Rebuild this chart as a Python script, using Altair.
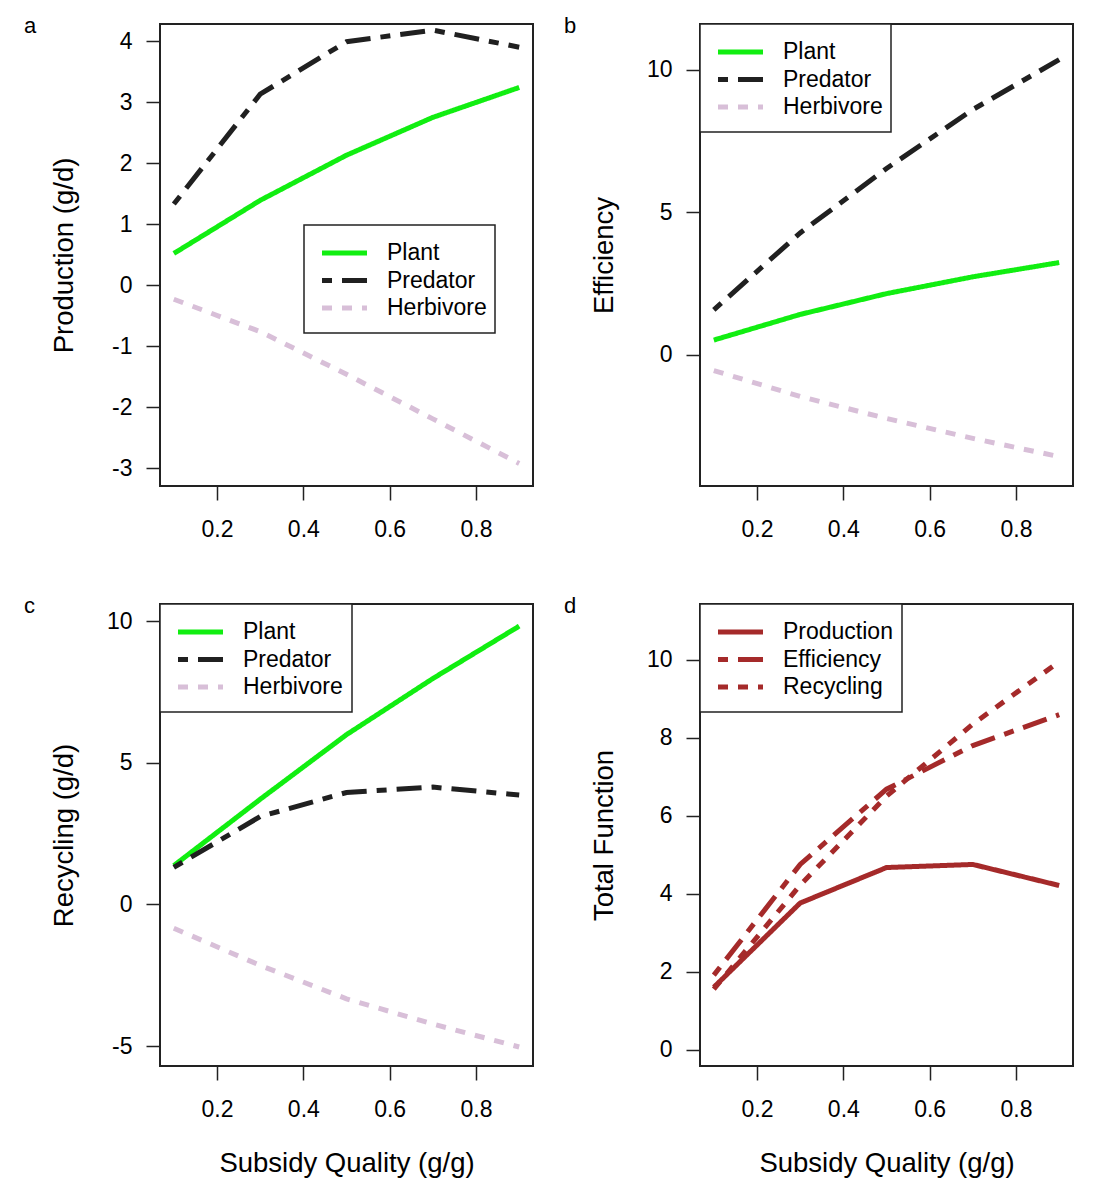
import altair as alt
import pandas as pd

FONT = "Liberation Sans"

# Subsidy quality levels (g/g) along the x axis
quality = [0.1, 0.3, 0.5, 0.7, 0.9]
x_ticks = [0.2, 0.4, 0.6, 0.8]

trophic_groups = ["Plant", "Predator", "Herbivore"]
function_groups = ["Production", "Efficiency", "Recycling"]

# Panel a: production (g/d)
production_plant = [0.52, 1.39, 2.13, 2.75, 3.24]
production_predator = [1.33, 3.13, 3.99, 4.18, 3.90]
production_herbivore = [-0.23, -0.76, -1.46, -2.19, -2.92]

# Panel b: efficiency
efficiency_plant = [0.51, 1.41, 2.14, 2.73, 3.23]
efficiency_predator = [1.57, 4.27, 6.53, 8.60, 10.35]
efficiency_herbivore = [-0.56, -1.47, -2.24, -2.94, -3.58]

# Panel c: recycling (g/d)
recycling_plant = [1.37, 3.71, 5.99, 7.97, 9.82]
recycling_predator = [1.31, 3.10, 3.95, 4.14, 3.86]
recycling_herbivore = [-0.84, -2.15, -3.33, -4.22, -5.03]

# Panel d: total ecosystem function
total_production = [1.60, 3.76, 4.67, 4.75, 4.21]
total_efficiency = [1.91, 4.75, 6.68, 7.80, 8.59]
total_recycling = [1.55, 4.22, 6.50, 8.35, 9.95]

# Styling
trophic_colors = ["#11EE11", "#202020", "#D8BFD8"]
function_colors = ["#A52A2A", "#A52A2A", "#A52A2A"]
dash_styles = [[1, 0], [10, 10, 25, 10], [10, 10]]

PLOT_W, PLOT_H = 373, 462
X_DOMAIN = [0.068, 0.932]


def long_table(names, series):
    rows = []
    for name, values in zip(names, series):
        for q, v in zip(quality, values):
            rows.append({"quality": q, "value": v, "series": name})
    return pd.DataFrame(rows)


def panel(df, names, colors, dashes, y_domain, y_ticks, y_title, letter,
          box_x, box_y, box_w, x_title=None):
    legend = alt.Legend(
        title=None, orient="none", direction="vertical",
        legendX=box_x + 15.5, legendY=box_y + 14.5, padding=0,
        symbolType="stroke", symbolSize=2025, symbolStrokeWidth=5,
        clipHeight=27, rowPadding=0.5, labelOffset=17.5,
        labelFontSize=23, labelFont=FONT, labelColor="black", labelLimit=400,
    )
    x_axis = alt.Axis(
        values=x_ticks, labelExpr="format(datum.value, '.1f')",
        tickSize=14, labelPadding=18, domain=False, grid=False,
        tickColor="#222222", tickWidth=1.5, labelFontSize=23, labelColor="black",
        labelFont=FONT, labelFlush=False, labelAngle=0,
        title=x_title, titleFontSize=27.5, titleFontWeight="normal",
        titleColor="black", titleFont=FONT, titleX=PLOT_W / 2, titleY=105,
        titleBaseline="alphabetic", titleAlign="center",
    )
    y_axis = alt.Axis(
        values=y_ticks, labelExpr="toString(datum.value)",
        tickSize=14, labelPadding=14, domain=False, grid=False,
        tickColor="#222222", tickWidth=1.5, labelFontSize=23, labelColor="black",
        labelFont=FONT, labelFlush=False,
        title=y_title, titleFontSize=27.5, titleFontWeight="normal",
        titleColor="black", titleFont=FONT, titleX=-87.5, titleY=PLOT_H / 2,
        titleAngle=270, titleBaseline="alphabetic", titleAlign="center",
    )
    lines = alt.Chart(df).mark_line(strokeWidth=5, strokeCap="butt").encode(
        x=alt.X("quality:Q", scale=alt.Scale(domain=X_DOMAIN, nice=False, zero=False), axis=x_axis),
        y=alt.Y("value:Q", scale=alt.Scale(domain=y_domain, nice=False, zero=False), axis=y_axis),
        color=alt.Color("series:N", scale=alt.Scale(domain=names, range=colors), legend=legend),
        strokeDash=alt.StrokeDash("series:N", scale=alt.Scale(domain=names, range=dashes), legend=legend),
    )
    box = alt.Chart(pd.DataFrame({"box": [0]})).mark_rect(
        fill="white", stroke="#222222", strokeWidth=1.5
    ).encode(
        x=alt.value(box_x), x2=alt.value(box_x + box_w),
        y=alt.value(box_y), y2=alt.value(box_y + 108),
    )
    tag = alt.Chart(pd.DataFrame({"tag": [letter]})).mark_text(
        align="left", baseline="alphabetic", fontSize=22, font=FONT, color="black"
    ).encode(text="tag:N", x=alt.value(-136), y=alt.value(9))
    return alt.layer(box, lines, tag).properties(width=PLOT_W, height=PLOT_H)


panel_a = panel(
    long_table(trophic_groups, [production_plant, production_predator, production_herbivore]),
    trophic_groups, trophic_colors, dash_styles,
    [-3.29, 4.28], [-3, -2, -1, 0, 1, 2, 3, 4], "Production (g/d)", "a",
    144, 201, 191,
)
panel_b = panel(
    long_table(trophic_groups, [efficiency_plant, efficiency_predator, efficiency_herbivore]),
    trophic_groups, trophic_colors, dash_styles,
    [-4.61, 11.6], [0, 5, 10], "Efficiency", "b",
    0, 0, 191,
)
panel_c = panel(
    long_table(trophic_groups, [recycling_plant, recycling_predator, recycling_herbivore]),
    trophic_groups, trophic_colors, dash_styles,
    [-5.70, 10.6], [-5, 0, 5, 10], "Recycling (g/d)", "c",
    0, 0, 192, x_title="Subsidy Quality (g/g)",
)
panel_d = panel(
    long_table(function_groups, [total_production, total_efficiency, total_recycling]),
    function_groups, function_colors, dash_styles,
    [-0.42, 11.43], [0, 2, 4, 6, 8, 10], "Total Function", "d",
    0, 0, 202, x_title="Subsidy Quality (g/g)",
)

chart = alt.concat(
    panel_a, panel_b, panel_c, panel_d,
    columns=2, spacing={"row": 118, "column": 167}, bounds="flush",
).resolve_scale(
    color="independent", strokeDash="independent"
).resolve_legend(
    color="independent", strokeDash="independent"
).properties(
    autosize=alt.AutoSizeParams(type="none"),
    padding={"left": 160, "top": 24, "right": 941, "bottom": 1176},
).configure(
    font=FONT, background="white"
).configure_view(
    stroke="#222222", strokeWidth=2
)

chart.save("out.html", embed_options={"renderer": "svg", "actions": False})
